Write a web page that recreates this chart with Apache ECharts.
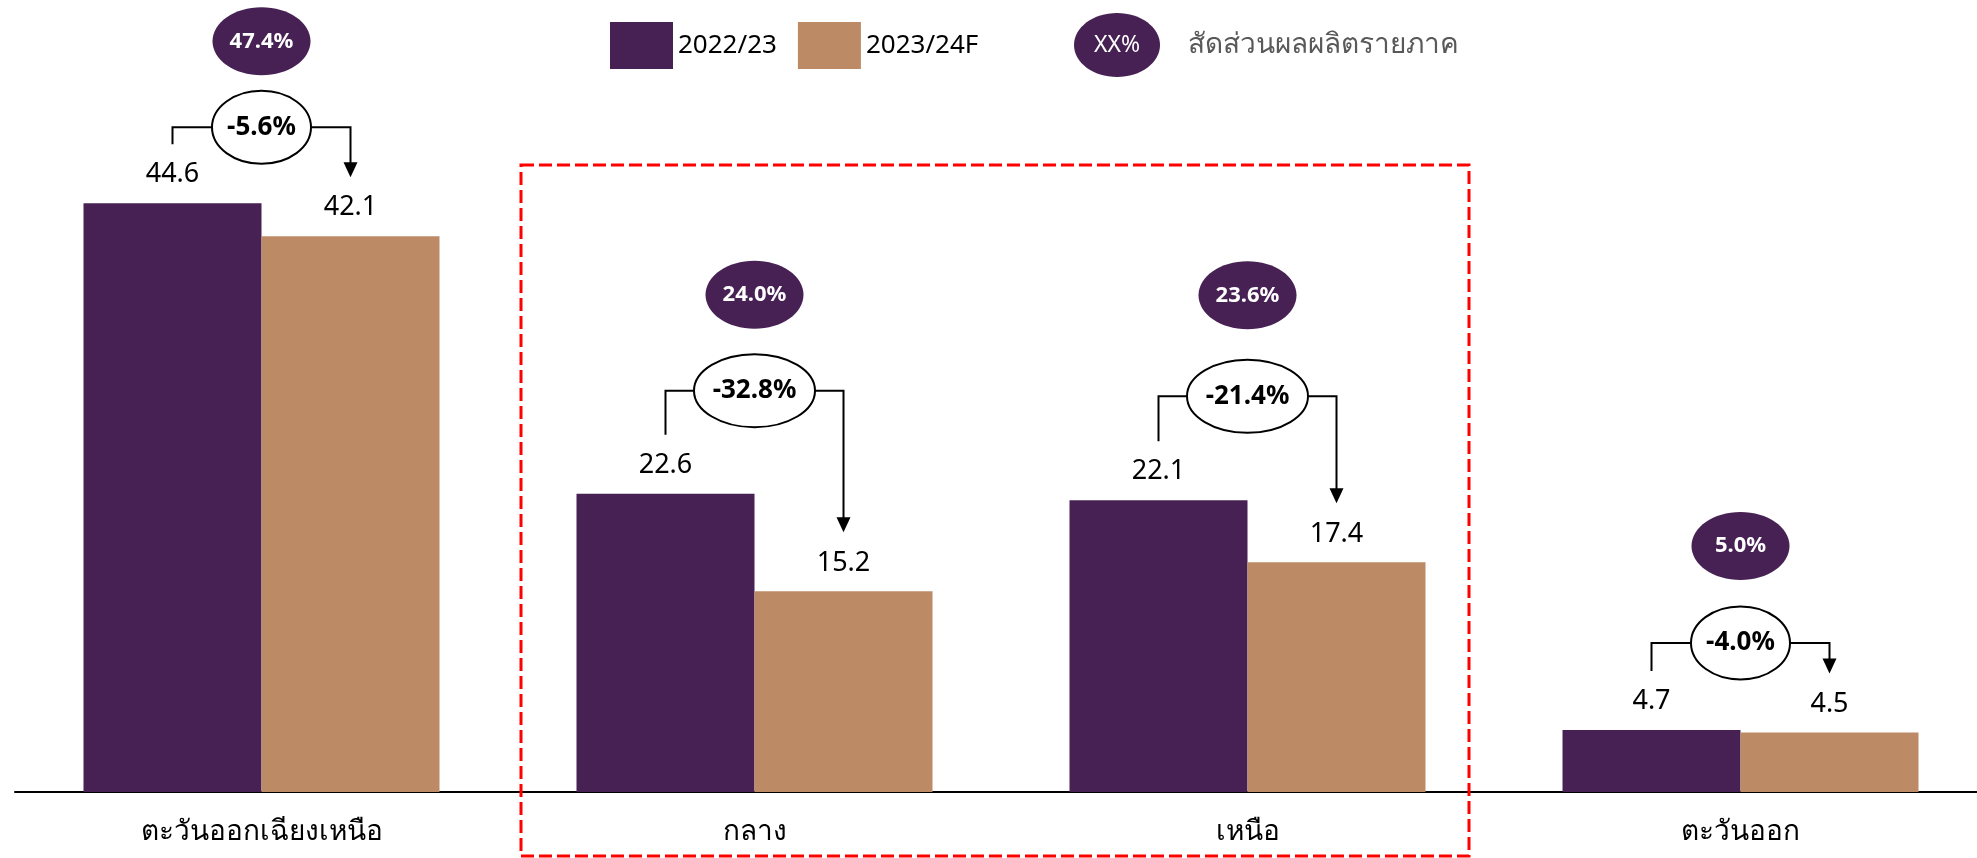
<!DOCTYPE html>
<html>
<head>
<meta charset="utf-8">
<title>ผลผลิตรายภาค</title>
<script src="https://cdn.jsdelivr.net/npm/echarts@6/dist/echarts.min.js"></script>
<style>
  html, body { margin: 0; padding: 0; background: #fff; overflow: hidden; }
  /* กว้างกว่าหน้าต่างเล็กน้อย เส้นแกนจึงยาวเลยขอบขวา */
  #main { width: 1987px; height: 858px; }
</style>
</head>
<body>
<div id="main"></div>
<script>
// ข้อมูล
var regions = ['ตะวันออกเฉียงเหนือ', 'กลาง', 'เหนือ', 'ตะวันออก'];
var seriesNames = ['2022/23', '2023/24F'];
var prod2223 = [44.6, 22.6, 22.1, 4.7];
var prod2324 = [42.1, 15.2, 17.4, 4.5];
var changeText = ['-5.6%', '-32.8%', '-21.4%', '-4.0%'];
var shareText = ['47.4%', '24.0%', '23.6%', '5.0%'];

// หน้าตา
var purple = '#472154';
var tan = '#BC8B66';
var font = "'Noto Sans', sans-serif";
var barW = 178;
var labelGap = 59;                    // ปลายเส้นอยู่เหนือยอดแท่ง
var bracketLift = [76, 103, 104, 87]; // เส้นวงเล็บเหนือแท่งที่สูงกว่า
var shareGap = [86, 96, 101, 97];     // วงรีสัดส่วนเหนือเส้นวงเล็บ

var noteData = regions.map(function (r, i) {
  return [i, prod2223[i], prod2324[i]];
});

function renderNote(params, api) {
  var i = api.value(0);
  var p1 = api.coord([i, api.value(1)]);
  var p2 = api.coord([i, api.value(2)]);
  var cx = p1[0];
  var x1 = cx - barW / 2, x2 = cx + barW / 2;
  var y1 = p1[1] - labelGap, y2 = p2[1] - labelGap;
  var yb = Math.min(p1[1], p2[1]) - bracketLift[i];
  var rx = (22 * changeText[i].length - 11) / 2;
  var ys = yb - shareGap[i];
  var line = { stroke: '#000', lineWidth: 2, fill: null };
  return {
    type: 'group',
    children: [
      { type: 'polyline', shape: { points: [[x1, y1], [x1, yb], [cx - rx, yb]] }, style: line },
      { type: 'polyline', shape: { points: [[cx + rx, yb], [x2, yb], [x2, y2 - 14]] }, style: line },
      { type: 'polygon', shape: { points: [[x2 - 7, y2 - 15], [x2 + 7, y2 - 15], [x2, y2]] }, style: { fill: '#000' } },
      { type: 'ellipse', shape: { cx: cx, cy: yb, rx: rx, ry: 36.5 }, style: { fill: '#fff', stroke: '#000', lineWidth: 2 } },
      { type: 'text', style: { text: changeText[i], x: cx, y: yb, align: 'center', verticalAlign: 'middle', font: 'bold 26px ' + font, fill: '#000' } },
      { type: 'ellipse', shape: { cx: cx, cy: ys, rx: 49, ry: 34 }, style: { fill: purple } },
      { type: 'text', style: { text: shareText[i], x: cx, y: ys, align: 'center', verticalAlign: 'middle', font: 'bold 22px ' + font, fill: '#fff' } }
    ]
  };
}

var chart = echarts.init(document.getElementById('main'));
chart.setOption({
  animation: false,
  textStyle: { fontFamily: font },
  grid: { left: 15, right: 0, top: 0, bottom: 66, containLabel: false },
  legend: {
    data: seriesNames,
    left: 605, top: 17,
    icon: 'rect',
    itemWidth: 63, itemHeight: 47, itemGap: 21,
    textStyle: { fontSize: 26, color: '#000', fontFamily: font }
  },
  xAxis: {
    type: 'category',
    data: regions,
    axisLine: { lineStyle: { color: '#000', width: 2 } },
    axisTick: { show: false },
    axisLabel: { fontSize: 28, color: '#000', margin: 26, fontFamily: font }
  },
  yAxis: { type: 'value', min: 0, max: 60, show: false, splitLine: { show: false } },
  series: [
    {
      name: seriesNames[0], type: 'bar', data: prod2223,
      barWidth: barW, barGap: '0%',
      itemStyle: { color: purple },
      label: { show: true, position: 'top', distance: 15, fontSize: 27, color: '#000', formatter: function (p) { return p.value.toFixed(1); } }
    },
    {
      name: seriesNames[1], type: 'bar', data: prod2324,
      barWidth: barW, barGap: '0%',
      itemStyle: { color: tan },
      label: { show: true, position: 'top', distance: 15, fontSize: 27, color: '#000', formatter: function (p) { return p.value.toFixed(1); } }
    },
    {
      type: 'custom', name: 'note', data: noteData,
      renderItem: renderNote, clip: false, z: 5,
      encode: { x: 0, y: 1 }
    }
  ],
  graphic: [
    { type: 'ellipse', shape: { cx: 1117, cy: 45, rx: 43, ry: 32 }, style: { fill: purple } },
    { type: 'text', style: { text: 'XX%', x: 1117, y: 45, align: 'center', verticalAlign: 'middle', font: '23px ' + font, fill: '#fff' } },
    { type: 'text', style: { text: 'สัดส่วนผลผลิตรายภาค', x: 1188, y: 45, align: 'left', verticalAlign: 'middle', font: '28px ' + font, fill: '#595959' } },
    { type: 'rect', shape: { x: 521, y: 165, width: 948, height: 691 }, style: { fill: null, stroke: '#ff0000', lineWidth: 3, lineDash: [13, 5] }, z: 10 }
  ]
});
</script>
</body>
</html>
